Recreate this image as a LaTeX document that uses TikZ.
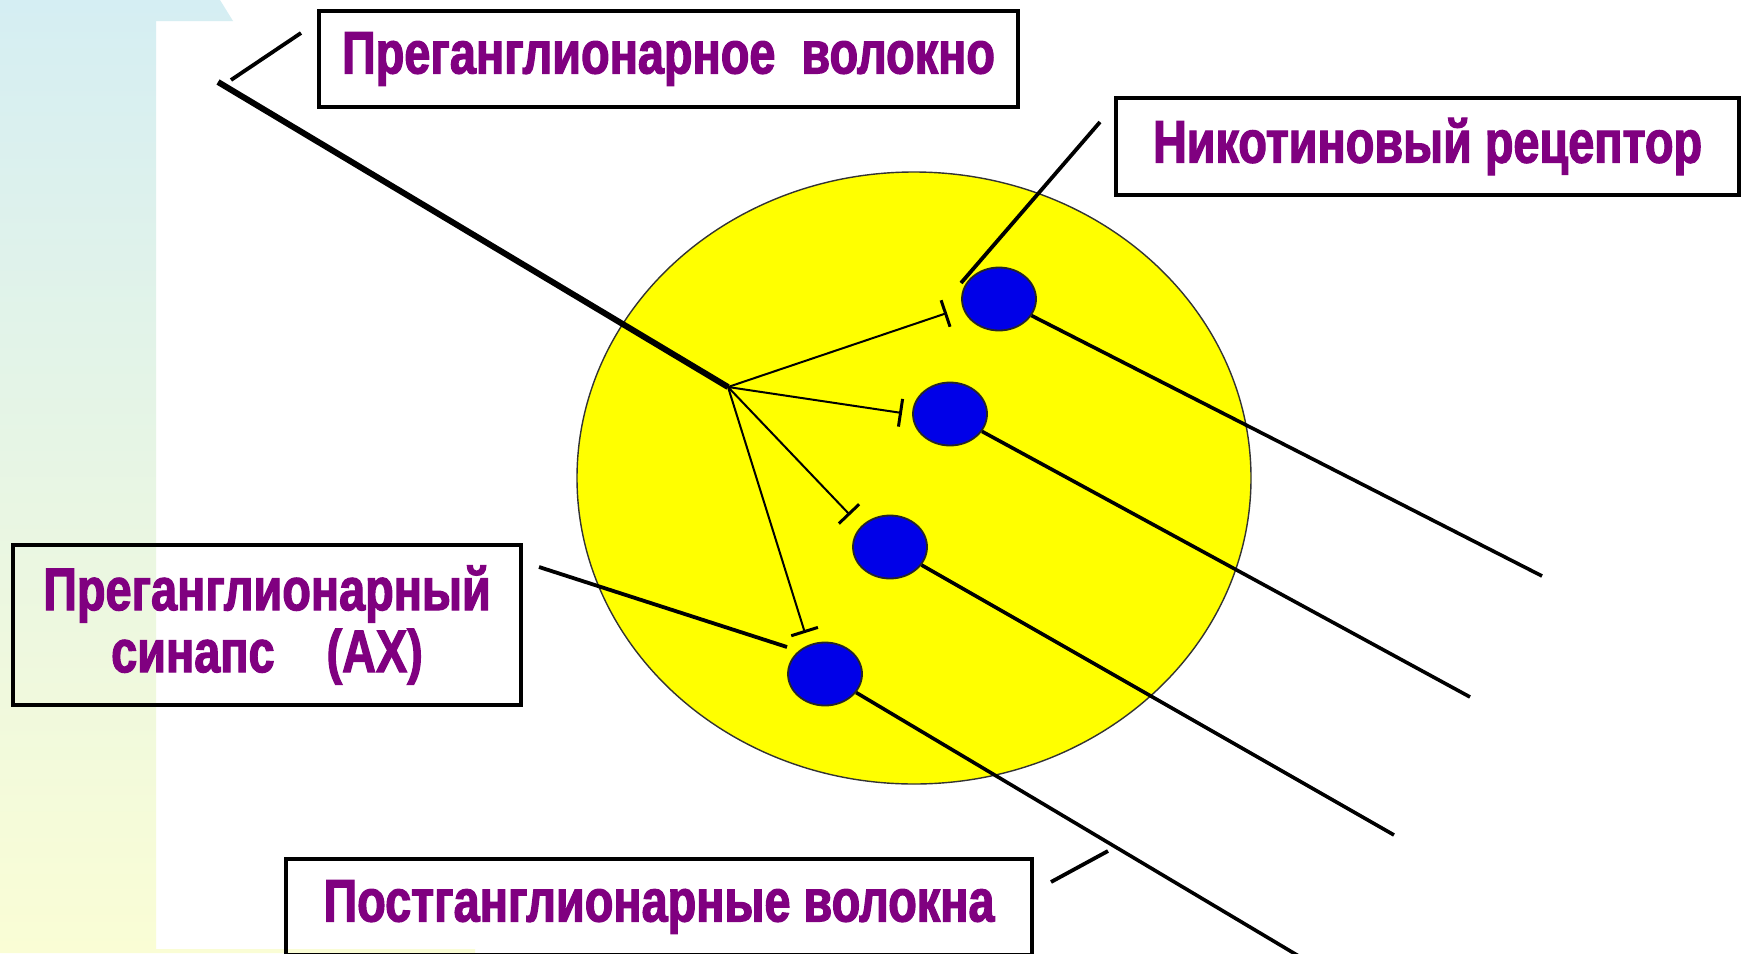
\documentclass[tikz,border=0pt]{standalone}
\usepackage{fontspec}
\usepackage{tikz}
\usetikzlibrary{positioning, arrows.meta, shapes.geometric}
\usepackage{xcolor}

\newfontfamily\labelfont[FakeStretch=0.78, FakeBold=2]{Liberation Sans}
\definecolor{labelpurple}{RGB}{128,0,128}
\definecolor{bgtop}{RGB}{213,238,243}
\definecolor{bgmid}{RGB}{228,244,226}
\definecolor{bgbot}{RGB}{250,253,213}
\definecolor{ganglionyellow}{RGB}{255,255,0}
\definecolor{cellblue}{RGB}{0,0,232}

\begin{document}
\begin{tikzpicture}[
    x=0.5pt, y=-0.5pt,
    labelbox/.style={draw, line width=2.2pt, inner sep=0pt, align=center,
        font=\labelfont\bfseries\fontsize{30}{31}\selectfont, text=labelpurple},
    ganglion/.style={ellipse, draw=black!80, line width=0.7pt, fill=ganglionyellow,
        inner sep=0pt, minimum width=337pt, minimum height=306pt},
    cell/.style={ellipse, draw=black!85, line width=0.9pt, fill=cellblue,
        inner sep=0pt, minimum width=37pt, minimum height=31.5pt},
    fibre/.style={line width=3pt},
    postfibre/.style={line width=1.8pt},
    branch/.style={line width=1pt, -{Bar[width=14pt, line width=1.5pt]}},
    pointer/.style={line width=1.9pt},
]

\useasboundingbox (0,0) rectangle (1744,953);
\clip (0,0) rectangle (1744,953);

% ── Background strip ──
\fill[white] (0,0) rectangle (1744,953);
\shade[top color=bgtop, middle color=bgmid, bottom color=bgbot]
    (0,0) -- (220,0) -- (233,21) -- (156,21) -- (156,949) -- (475,949)
    -- (475,953) -- (0,953) -- cycle;

% ── Ganglion ──
\node[ganglion] (ganglion) at (914,478) {};

% ── Preganglionic fibre ──
\coordinate (prestart) at (218,82);
\coordinate (fork) at (728,387);
\draw[fibre] (prestart) -- (fork);

% ── Cells ──
\node[cell] (cell1) at (999,299) {};
\node[cell] (cell2) at (950,414) {};
\node[cell] (cell3) at (890,547) {};
\node[cell] (cell4) at (825,674) {};

% Synapses
\coordinate (syn1) at (947,313);
\coordinate (syn2) at (902,413);
\coordinate (syn3) at (850,515);
\coordinate (syn4) at (805,633);
\draw[branch] (fork) -- (syn1);
\draw[branch] (fork) -- (syn2);
\draw[branch] (fork) -- (syn3);
\draw[branch] (fork) -- (syn4);

% ── Postganglionic fibres ──
\coordinate (post1) at (1542,576);
\coordinate (post2) at (1470,697);
\coordinate (post3) at (1394,835);
\coordinate (post4) at (1302,958);
\draw[postfibre] (cell1) -- (post1);
\draw[postfibre] (cell2) -- (post2);
\draw[postfibre] (cell3) -- (post3);
\draw[postfibre] (cell4) -- (post4);

% ── Labels ──
\node[labelbox, minimum width=349.5pt, minimum height=48pt]
    (prelabel) at (668.5,59) {Преганглионарное\ \ волокно};
\node[labelbox, minimum width=311.5pt, minimum height=48.5pt]
    (niclabel) at (1427.5,146.5) {Никотиновый рецептор};
\node[labelbox, minimum width=254pt, minimum height=80pt]
    (synlabel) at (267,625) {Преганглионарный\\синапс\ \ \ \ (АХ)};
\node[labelbox, minimum width=373pt, minimum height=48pt]
    (postlabel) at (659,907) {Постганглионарные волокна};

% ── Pointers ──
\coordinate (preptr) at (231,80);
\coordinate (preptrend) at (301,33);
\draw[pointer] (preptr) -- (preptrend);

\coordinate (nicptr) at (961,283);
\coordinate (nicptrend) at (1100,122);
\draw[pointer] (nicptr) -- (nicptrend);

\coordinate (synptr) at (787,647);
\coordinate (synptrend) at (539,567);
\draw[pointer] (synptr) -- (synptrend);

\coordinate (postptr) at (1108,851);
\coordinate (postptrend) at (1051,882);
\draw[pointer] (postptr) -- (postptrend);

\end{tikzpicture}
\end{document}
